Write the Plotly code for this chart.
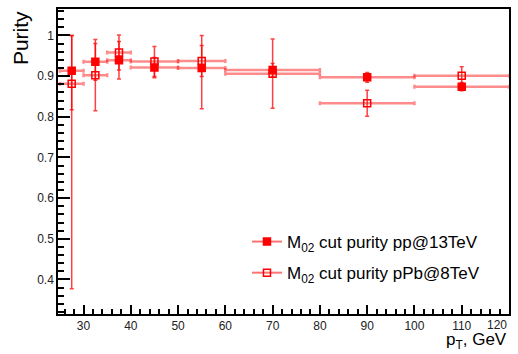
import plotly.graph_objects as go

# bin centres and half widths (GeV)
pt = [27.5, 32.5, 37.5, 45, 55, 70, 90, 110]
pt_halfwidth = [2.5, 2.5, 2.5, 5, 5, 10, 10, 10]

# pp@13TeV purity
pp_purity = [0.913, 0.935, 0.939, 0.921, 0.920, 0.915, 0.897, 0.874]
pp_err_up = [0.087, 0.045, 0.046, 0.025, 0.080, 0.016, 0.012, 0.010]
pp_err_dn = [0.096, 0.045, 0.046, 0.025, 0.100, 0.016, 0.012, 0.010]

# pPb@8TeV purity
ppb_purity = [0.881, 0.902, 0.958, 0.936, 0.937, 0.906, 0.833, 0.901]
ppb_err_up = [0.119, 0.088, 0.043, 0.037, 0.038, 0.085, 0.032, 0.022]
ppb_err_dn = [0.504, 0.087, 0.043, 0.037, 0.038, 0.085, 0.032, 0.022]

# x tick labels
x_ticks = [30, 40, 50, 60, 70, 80, 90, 100, 110, 120]

name_pp = "M<sub>02</sub> cut purity pp@13TeV"
name_ppb = "M<sub>02</sub> cut purity pPb@8TeV"

RED = "#ff0000"
XERR = "rgba(255,0,0,0.45)"
YERR = "rgba(255,0,0,0.75)"
FONT = "Liberation Sans, Arial, sans-serif"

fig = go.Figure()

def add_series(y, up, dn, symbol, name, group):
    fig.add_trace(go.Scatter(
        x=pt, y=y, mode="markers", showlegend=False,
        marker=dict(symbol=symbol, size=7, color=RED, line=dict(color=RED, width=1.5)),
        error_x=dict(type="data", array=pt_halfwidth, color=XERR, thickness=2.5, width=2),
        error_y=dict(type="data", array=up, arrayminus=dn, symmetric=False,
                     color=YERR, thickness=1.5, width=2),
    ))
    fig.add_trace(go.Scatter(
        x=[None], y=[None], mode="lines+markers", name=name, legendgroup=group,
        marker=dict(symbol=symbol, size=7, color=RED, line=dict(color=RED, width=1.5)),
        line=dict(color="rgba(255,0,0,0.55)", width=2),
    ))

add_series(pp_purity, pp_err_up, pp_err_dn, "square", name_pp, "a")
add_series(ppb_purity, ppb_err_up, ppb_err_dn, "square-open", name_ppb, "b")

axis_common = dict(
    showline=True, linecolor="black", linewidth=1.5, mirror=True,
    ticks="inside", tickcolor="black", showgrid=False, zeroline=False,
    tickfont=dict(family=FONT, size=12, color="#222"),
)

# last label (120) is drawn right-aligned at the frame edge, as ROOT does
fig.update_xaxes(range=[24.6, 120], tickmode="array", tickvals=x_ticks,
                 ticktext=[str(v) if v != x_ticks[-1] else "" for v in x_ticks],
                 ticklen=9, tickwidth=1.5,
                 minor=dict(ticks="inside", dtick=2, ticklen=5, tickcolor="black"),
                 **axis_common)
fig.update_yaxes(range=[0.315, 1.065], dtick=0.1, tick0=0, ticklen=12, tickwidth=1.5,
                 tickformat="~g",
                 minor=dict(ticks="inside", dtick=0.02, ticklen=6, tickcolor="black"),
                 **axis_common)

fig.update_layout(
    width=518, height=354,
    margin=dict(l=58, r=9, t=7, b=40),
    paper_bgcolor="white", plot_bgcolor="white",
    font=dict(family=FONT, color="black"),
    legend=dict(x=0.419, y=0.295, xanchor="left", yanchor="top",
                font=dict(size=17, color="black"), bgcolor="rgba(0,0,0,0)",
                tracegroupgap=6),
    annotations=[
        dict(text=str(x_ticks[-1]), xref="x", yref="paper", x=x_ticks[-1], y=-0.006,
             xanchor="right", yanchor="top", showarrow=False,
             font=dict(family=FONT, size=12, color="#222")),
        dict(text="Purity", xref="paper", yref="paper", x=-0.084, y=1.0,
             xanchor="center", yanchor="top", textangle=-90, showarrow=False,
             font=dict(size=21, color="black")),
        dict(text="p<sub>T</sub>, GeV", xref="paper", yref="paper", x=1.0, y=-0.131,
             xanchor="right", yanchor="bottom", showarrow=False,
             font=dict(size=17, color="black")),
    ],
)

fig.write_html("out.html")
